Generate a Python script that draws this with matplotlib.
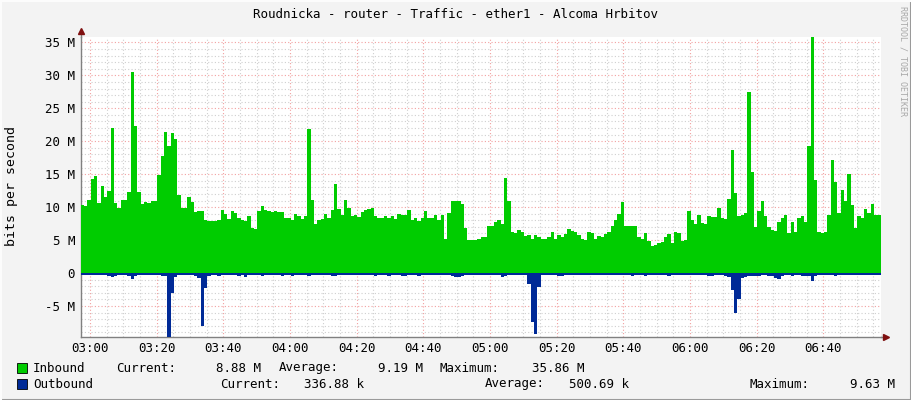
import numpy as np
import matplotlib
matplotlib.use("Agg")
import matplotlib.pyplot as plt
from matplotlib.lines import Line2D
from matplotlib.patches import Rectangle

title = "Roudnicka - router - Traffic - ether1 - Alcoma Hrbitov"
ylabel = "bits per second"
credit = "RRDTOOL / TOBI OETIKER"

# time axis in minutes relative to 03:00, one sample per minute
start_min = -2.8
sample_min = 1.0

inbound = [
    10.3, 10.2, 11.1, 14.2, 14.7, 10.7, 13.2, 11.6, 12.4, 22.0,
    10.7, 9.8, 11.1, 11.1, 12.3, 30.5, 22.3, 12.3, 10.4, 10.8,
    10.6, 11.0, 11.0, 14.8, 17.7, 21.4, 19.3, 21.3, 20.4, 11.9,
    9.8, 9.8, 11.5, 10.8, 9.2, 9.4, 9.4, 8.0, 7.9, 7.9,
    7.9, 8.0, 9.6, 9.0, 8.2, 9.4, 9.1, 8.4, 8.0, 7.9,
    8.6, 6.8, 6.7, 9.4, 10.2, 9.6, 9.4, 9.2, 9.4, 9.3,
    9.3, 8.4, 8.3, 8.0, 9.0, 8.6, 8.2, 8.6, 21.9, 11.1,
    7.4, 8.0, 8.2, 9.0, 8.3, 9.6, 13.5, 9.7, 8.8, 11.1,
    9.8, 8.6, 8.75, 8.5, 9.2, 9.5, 9.7, 9.9, 8.6, 8.3,
    8.3, 8.6, 8.3, 8.6, 8.2, 9.0, 8.85, 8.85, 9.6, 8.0,
    8.4, 7.9, 8.3, 9.4, 8.3, 8.4, 8.75, 8.0, 8.75, 5.2,
    9.1, 10.9, 11.0, 11.0, 10.4, 6.9, 5.0, 5.0, 5.0, 5.1,
    5.4, 5.4, 7.2, 7.2, 7.7, 8.1, 7.4, 14.4, 10.9, 6.2,
    6.0, 6.6, 6.2, 5.6, 5.7, 5.1, 5.7, 5.4, 5.2, 5.2,
    5.4, 6.2, 5.1, 5.7, 5.5, 5.9, 6.7, 6.4, 6.2, 5.7,
    5.1, 5.0, 6.3, 6.1, 5.2, 5.6, 5.5, 5.9, 6.3, 7.2,
    8.1, 9.0, 10.8, 7.1, 7.1, 7.1, 7.2, 5.5, 5.2, 6.1,
    4.9, 4.1, 4.3, 4.6, 4.7, 5.5, 5.9, 4.6, 6.2, 6.1,
    4.8, 5.0, 9.4, 8.1, 7.5, 8.75, 7.6, 7.5, 8.6, 8.5,
    8.5, 9.9, 8.4, 8.2, 11.2, 18.7, 12.1, 8.6, 8.75, 9.1,
    27.5, 15.4, 7.0, 9.4, 11.0, 8.6, 7.0, 6.5, 6.4, 7.7,
    8.4, 8.75, 6.1, 7.8, 6.3, 8.3, 8.6, 7.7, 19.2, 35.86,
    14.1, 6.2, 6.0, 6.2, 8.75, 17.1, 13.8, 9.1, 12.6, 11.0,
    15.1, 10.3, 6.8, 8.6, 8.4, 9.7, 9.1, 10.4, 8.75, 8.88,
]

outbound = [
    -0.35, -0.35, -0.3, -0.3, -0.35, -0.3, -0.3, -0.35, -0.4, -0.55,
    -0.4, -0.3, -0.3, -0.35, -0.4, -0.85, -0.45, -0.35, -0.3, -0.3,
    -0.3, -0.3, -0.3, -0.3, -0.4, -0.45, -9.63, -3.0, -0.55, -0.35,
    -0.3, -0.3, -0.3, -0.35, -0.4, -0.8, -8.1, -2.2, -0.4, -0.35,
    -0.3, -0.4, -0.3, -0.3, -0.35, -0.3, -0.3, -0.4, -0.3, -0.55,
    -0.3, -0.3, -0.3, -0.35, -0.4, -0.3, -0.3, -0.3, -0.3, -0.3,
    -0.45, -0.3, -0.3, -0.4, -0.3, -0.3, -0.3, -0.3, -0.45, -0.3,
    -0.3, -0.3, -0.3, -0.3, -0.3, -0.45, -0.45, -0.3, -0.3, -0.3,
    -0.3, -0.3, -0.3, -0.3, -0.3, -0.3, -0.3, -0.3, -0.4, -0.3,
    -0.3, -0.3, -0.4, -0.3, -0.3, -0.3, -0.4, -0.4, -0.3, -0.3,
    -0.3, -0.4, -0.3, -0.3, -0.3, -0.3, -0.3, -0.3, -0.3, -0.3,
    -0.3, -0.45, -0.55, -0.55, -0.45, -0.3, -0.3, -0.3, -0.3, -0.3,
    -0.3, -0.3, -0.3, -0.3, -0.3, -0.3, -0.55, -0.4, -0.3, -0.3,
    -0.3, -0.3, -0.3, -0.3, -1.7, -7.4, -9.3, -2.1, -0.3, -0.3,
    -0.3, -0.3, -0.3, -0.4, -0.4, -0.3, -0.35, -0.3, -0.3, -0.3,
    -0.35, -0.3, -0.3, -0.3, -0.35, -0.3, -0.3, -0.3, -0.3, -0.3,
    -0.3, -0.3, -0.3, -0.3, -0.35, -0.4, -0.3, -0.3, -0.3, -0.4,
    -0.3, -0.3, -0.3, -0.35, -0.3, -0.3, -0.4, -0.3, -0.3, -0.3,
    -0.3, -0.3, -0.3, -0.3, -0.35, -0.3, -0.3, -0.3, -0.4, -0.4,
    -0.3, -0.3, -0.3, -0.4, -0.6, -2.5, -6.0, -3.9, -0.8, -0.55,
    -0.5, -0.4, -0.4, -0.5, -0.35, -0.35, -0.4, -0.4, -0.7, -0.85,
    -0.5, -0.35, -0.35, -0.4, -0.3, -0.35, -0.4, -0.4, -0.5, -1.2,
    -0.5, -0.3, -0.3, -0.3, -0.35, -0.35, -0.4, -0.35, -0.3, -0.3,
    -0.35, -0.3, -0.3, -0.3, -0.3, -0.3, -0.3, -0.3, -0.3, -0.34,
]

y_ticks = [-5, 0, 5, 10, 15, 20, 25, 30, 35]
y_tick_labels = ["-5 M", "0", "5 M", "10 M", "15 M", "20 M", "25 M", "30 M", "35 M"]
x_ticks = [0, 20, 40, 60, 80, 100, 120, 140, 160, 180, 200, 220]
x_tick_labels = ["03:00", "03:20", "03:40", "04:00", "04:20", "04:40",
                 "05:00", "05:20", "05:40", "06:00", "06:20", "06:40"]
y_min, y_max = -9.63, 35.86

legend_rows = [
    ("Inbound", [("Current:", 116, "l"), ("8.88 M", 261, "r"), ("Average:", 279, "l"),
                 ("9.19 M", 423, "r"), ("Maximum:", 440, "l"), ("35.86 M", 584, "r")]),
    ("Outbound", [("Current:", 220, "l"), ("336.88 k", 364, "r"), ("Average:", 485, "l"),
                  ("500.69 k", 629, "r"), ("Maximum:", 750, "l"), ("9.63 M", 895, "r")]),
]

IN_COLOR = "#00CC00"
OUT_COLOR = "#002A97"
BG = "#F3F3F3"
MONO = "DejaVu Sans Mono"

W, H = 911, 400
fig = plt.figure(figsize=(W / 100, H / 100), dpi=100, facecolor=BG)

ax_l, ax_r, ax_t, ax_b = 80.7, 880.7, 36.7, 336.5
ax = fig.add_axes([ax_l / W, 1 - ax_b / H, (ax_r - ax_l) / W, (ax_b - ax_t) / H])
ax.set_facecolor("white")

n = len(inbound)
edges = start_min + sample_min * np.arange(n + 1)
ax.stairs(inbound, edges, baseline=0, fill=True, color=IN_COLOR, lw=0, zorder=3)
ax.stairs(outbound, edges, baseline=0, fill=True, color=OUT_COLOR, lw=0, zorder=3)

ax.set_xlim(edges[0], edges[-1])
ax.set_ylim(y_min, y_max)

ax.set_yticks(y_ticks)
ax.set_yticklabels(y_tick_labels, fontfamily=MONO, fontsize=9)
ax.set_yticks(np.arange(-9, 36, 1), minor=True)
ax.set_xticks(x_ticks)
ax.set_xticklabels(x_tick_labels, fontfamily=MONO, fontsize=9)
ax.set_xticks(np.arange(0, 240, 5), minor=True)

ax.grid(which="minor", color="#CFCFCF", linestyle=(0, (1, 2)), lw=0.8, zorder=1)
ax.grid(which="major", color="#F2A0A0", linestyle=(0, (1, 2)), lw=0.8, zorder=2)
ax.set_axisbelow(True)

ax.tick_params(which="both", length=0, pad=4, colors="#000000")
for s in ["top", "right"]:
    ax.spines[s].set_visible(False)
for s in ["left", "bottom"]:
    ax.spines[s].set_color("#808080")
    ax.spines[s].set_linewidth(1.0)

# axis arrow extensions
fig.add_artist(Line2D([ax_l / W, ax_l / W], [1 - ax_t / H, 1 - 31 / H], color="#808080", lw=1.0))
fig.add_artist(Line2D([ax_r / W, 886 / W], [1 - ax_b / H, 1 - ax_b / H], color="#808080", lw=1.0))
fig.add_artist(Line2D([ax_l / W], [1 - 31 / H], marker="^", color="#7F1010", markersize=5, lw=0))
fig.add_artist(Line2D([886 / W], [1 - ax_b / H], marker=">", color="#7F1010", markersize=5, lw=0))

# texts
fig.text(455.5 / W, 1 - 15 / H, title, ha="center", va="center", fontfamily=MONO, fontsize=9)
fig.text(12 / W, 1 - 186 / H, ylabel, ha="center", va="center", rotation=90,
         fontfamily=MONO, fontsize=9.5)
fig.text(903 / W, 1 - 61 / H, credit, ha="center", va="center", rotation=-90,
         fontfamily=MONO, fontsize=6, color="#A8A8A8")

row_y = [368, 384]
row_colors = [IN_COLOR, OUT_COLOR]
for (name, items), yy, col in zip(legend_rows, row_y, row_colors):
    fig.add_artist(Rectangle((17 / W, 1 - (yy + 5) / H), 10 / W, 10 / H,
                             facecolor=col, edgecolor="#000000", lw=0.6))
    fig.text(33 / W, 1 - yy / H, name, ha="left", va="center", fontfamily=MONO, fontsize=9)
    for txt, xx, al in items:
        fig.text(xx / W, 1 - yy / H, txt, ha="left" if al == "l" else "right",
                 va="center", fontfamily=MONO, fontsize=9)

# 3D frame
fig.add_artist(Line2D([0, 1], [0.5 / H, 0.5 / H], color="#9A9A9A", lw=1.5))
fig.add_artist(Line2D([1 - 0.5 / W, 1 - 0.5 / W], [0, 1], color="#9A9A9A", lw=1.5))
fig.add_artist(Line2D([0, 1], [1 - 0.5 / H, 1 - 0.5 / H], color="#FCFCFC", lw=1.5))
fig.add_artist(Line2D([0.5 / W, 0.5 / W], [0, 1], color="#FCFCFC", lw=1.5))

fig.savefig("out.png", dpi=100, facecolor=BG)
